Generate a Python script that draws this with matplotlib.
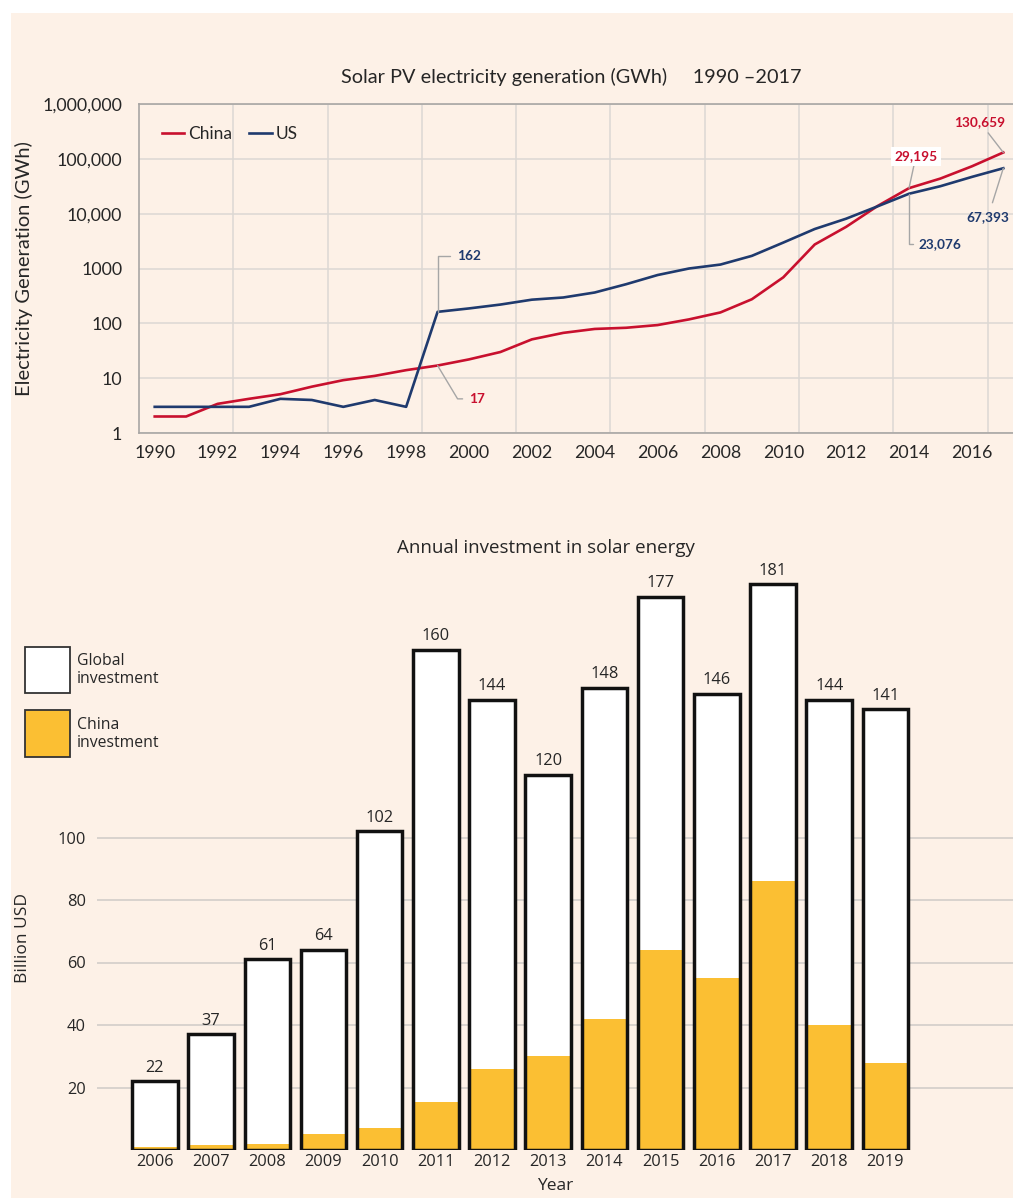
import matplotlib
matplotlib.use("Agg")
import matplotlib.pyplot as plt
import matplotlib.patches as mpatches
import numpy as np

# ---------------- data ----------------
gen_years = list(range(1990, 2018))
china_gen = [2, 2, 3.4, 4.2, 5.1, 7, 9.2, 11, 14, 17, 22, 30, 51, 67, 79, 83, 93, 118,
             158, 275, 690, 2740, 5750, 13800, 29195, 43700, 73000, 130659]
us_gen = [3, 3, 3, 3, 4.2, 4, 3, 4, 3, 162, 187, 220, 270, 296, 365, 517, 760, 1000,
          1180, 1700, 2970, 5250, 8100, 13600, 23076, 31700, 46800, 67393]
gen_yticks = [1, 10, 100, 1000, 10000, 100000, 1000000]
gen_yticklabels = ["1", "10", "100", "1000", "10,000", "100,000", "1,000,000"]
gen_xticks = list(range(1990, 2017, 2))

inv_years = [2006, 2007, 2008, 2009, 2010, 2011, 2012, 2013, 2014, 2015, 2016, 2017, 2018, 2019]
global_inv = [22, 37, 61, 64, 102, 160, 144, 120, 148, 177, 146, 181, 144, 141]
china_inv = [1, 1.5, 2, 5, 7, 15.5, 26, 30, 42, 64, 55, 86, 40, 28]
inv_yticks = [20, 40, 60, 80, 100]

# ---------------- style ----------------
W, H = 1013, 1198
BG = "#fdf1e7"
RED = "#c8102e"
BLUE = "#1f3a6e"
YELLOW = "#fbbf33"
TXT = "#262626"
GRID = "#dcd8d4"
LEAD = "#a6a6a6"

plt.rcParams["font.family"] = ["Lato", "DejaVu Sans"]

fig = plt.figure(figsize=(W / 100, H / 100), dpi=100)
fig.patch.set_facecolor("white")
# cream panel (white margin top/left)
fig.patches.append(mpatches.Rectangle((11 / W, 0), 1, 1 - 13 / H, transform=fig.transFigure,
                                      facecolor=BG, edgecolor="none", zorder=-10))


def px_rect(l, t, r, b):
    return [l / W, 1 - b / H, (r - l) / W, (b - t) / H]


# ================= top chart =================
ax = fig.add_axes(px_rect(139, 104, 1019, 433))
ax.set_facecolor(BG)
ax.plot(gen_years, china_gen, color=RED, lw=1.9, label="China", zorder=3)
ax.plot(gen_years, us_gen, color=BLUE, lw=1.9, label="US", zorder=3)
ax.set_yscale("log")
ax.set_ylim(1, 1e6)
ax.set_xlim(1989.5, 2017.5)
ax.set_yticks(gen_yticks)
ax.set_yticklabels(gen_yticklabels)
ax.yaxis.set_minor_locator(matplotlib.ticker.NullLocator())
ax.set_xticks(gen_xticks)
ax.set_xticks(np.arange(1992.5, 2017.5, 3), minor=True)
ax.tick_params(axis="both", which="both", length=0, colors=TXT, labelsize=12.8)
ax.tick_params(axis="y", pad=12)
ax.tick_params(axis="x", pad=9)
ax.grid(True, which="major", axis="y", color=GRID, lw=1.1)
ax.grid(True, which="minor", axis="x", color=GRID, lw=1.1)
for s in ["top", "left", "bottom"]:
    ax.spines[s].set_color("#a8a6a4")
    ax.spines[s].set_linewidth(1.2)
ax.spines["right"].set_visible(False)
ax.set_ylabel("Electricity Generation (GWh)", fontsize=14.5, color=TXT)
ax.yaxis.set_label_coords(-0.12, 0.5)

leg = ax.legend(loc="center left", bbox_to_anchor=(0.018, 0.909), ncol=2, frameon=False,
                handlelength=1.3, handletextpad=0.2, columnspacing=1.0, fontsize=12.5,
                borderaxespad=0)
for t in leg.get_texts():
    t.set_color(TXT)

fig.text(571 / W, 1 - 77 / H, "Solar PV electricity generation (GWh)     1990 \u20132017",
         ha="center", va="center", fontsize=14.3, color=TXT)

# data labels with leader lines
i99 = gen_years.index(1999)
i14 = gen_years.index(2014)
i17 = gen_years.index(2017)
lab_kw = dict(fontsize=9.8, fontweight="bold", va="center", textcoords="offset points")
ax.annotate(f"{us_gen[i99]:,}", xy=(1999, us_gen[i99]), xytext=(14, 40), ha="left",
            color=BLUE, arrowprops=dict(arrowstyle="-", color=LEAD, lw=1,
                                        connectionstyle="angle,angleA=0,angleB=90,rad=0",
                                        shrinkA=3, shrinkB=0), **lab_kw)
ax.annotate(f"{china_gen[i99]:,}", xy=(1999, china_gen[i99]), xytext=(23, -24), ha="left",
            color=RED, arrowprops=dict(arrowstyle="-", color=LEAD, lw=1,
                                       connectionstyle="angle,angleA=0,angleB=-59,rad=0",
                                       shrinkA=3, shrinkB=0), **lab_kw)
ax.annotate(f"{china_gen[i14]:,}", xy=(2014, china_gen[i14]), xytext=(5, 23), ha="center",
            color=RED, bbox=dict(boxstyle="square,pad=0.25", fc="white", ec="none"),
            arrowprops=dict(arrowstyle="-", color=LEAD, lw=1, shrinkA=0, shrinkB=0), **lab_kw)
ax.annotate(f"{us_gen[i14]:,}", xy=(2014, us_gen[i14]), xytext=(7, -36), ha="left",
            color=BLUE, arrowprops=dict(arrowstyle="-", color=LEAD, lw=1,
                                        connectionstyle="angle,angleA=0,angleB=90,rad=0",
                                        shrinkA=2, shrinkB=0), **lab_kw)
ax.annotate(f"{china_gen[i17]:,}", xy=(2017, china_gen[i17]), xytext=(-17, 22), ha="center",
            color=RED, arrowprops=dict(arrowstyle="-", color=LEAD, lw=1, shrinkA=2, shrinkB=0),
            **lab_kw)
ax.annotate(f"{us_gen[i17]:,}", xy=(2017, us_gen[i17]), xytext=(-11, -35), ha="center",
            color=BLUE, arrowprops=dict(arrowstyle="-", color=LEAD, lw=1, shrinkA=4, shrinkB=0),
            **lab_kw)

# ================= bottom chart =================
bfont = ["Open Sans", "DejaVu Sans"]
ax2 = fig.add_axes(px_rect(97, 560, 1013, 1150))
ax2.set_facecolor("none")
x = np.arange(len(inv_years))
bw = 0.81
ax2.bar(x, global_inv, width=bw, color="white", edgecolor="none", zorder=2)
ax2.bar(x, china_inv, width=bw, color=YELLOW, edgecolor="none", zorder=3)
ax2.bar(x, global_inv, width=bw, facecolor="none", edgecolor="#111111", lw=2.5, zorder=4)
for xi, v in zip(x, global_inv):
    ax2.annotate(str(v), xy=(xi, v), xytext=(0, 4), textcoords="offset points",
                 ha="center", va="bottom", fontsize=11.8, color=TXT, family=bfont)
ax2.set_xlim(-1.03, 15.27)
ax2.set_ylim(0, 188.8)
ax2.set_xticks(x)
ax2.set_xticklabels([str(y) for y in inv_years], family=bfont)
ax2.set_yticks(inv_yticks)
ax2.set_yticklabels([str(v) for v in inv_yticks], family=bfont)
ax2.tick_params(axis="both", length=0, colors=TXT, labelsize=11.8)
ax2.tick_params(axis="x", pad=3)
ax2.tick_params(axis="y", pad=8)
ax2.grid(True, axis="y", color="#cfcbc7", lw=1.1, zorder=0)
ax2.set_axisbelow(True)
for s in ax2.spines.values():
    s.set_visible(False)
ax2.set_ylabel("Billion USD", fontsize=12.5, color=TXT, family=bfont)
ax2.yaxis.set_label_coords(-0.072, 0.36)

fig.text(546 / W, 1 - 548 / H, "Annual investment in solar energy", ha="center", va="center",
         fontsize=13.5, color=TXT, family=bfont)
fig.text(555 / W, 1 - 1186 / H, "Year", ha="center", va="center", fontsize=12.5, color=TXT,
         family=bfont)

# legend boxes
fig.patches.append(mpatches.Rectangle((25 / W, 1 - 693 / H), 45 / W, 46 / H,
                                      transform=fig.transFigure, facecolor="white",
                                      edgecolor="#333333", lw=1.3))
fig.patches.append(mpatches.Rectangle((25 / W, 1 - 757 / H), 45 / W, 47 / H,
                                      transform=fig.transFigure, facecolor=YELLOW,
                                      edgecolor="#333333", lw=1.3))
fig.text(77 / W, 1 - 670 / H, "Global\ninvestment", ha="left", va="center", fontsize=11.3,
         color=TXT, family=bfont, linespacing=1.2)
fig.text(77 / W, 1 - 734 / H, "China\ninvestment", ha="left", va="center", fontsize=11.3,
         color=TXT, family=bfont, linespacing=1.2)

fig.savefig("out.png", dpi=100, facecolor=fig.get_facecolor())
